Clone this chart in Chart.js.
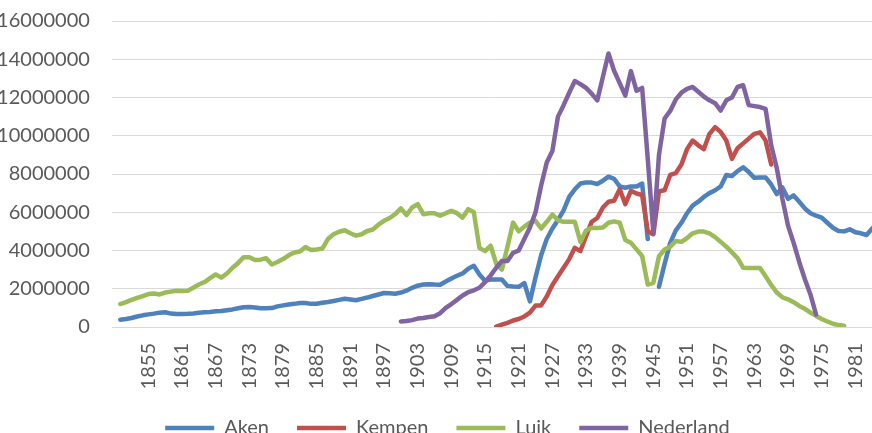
<!DOCTYPE html>
<html>
<head>
<meta charset="utf-8">
<script src="https://cdn.jsdelivr.net/npm/chart.js@4.4.1/dist/chart.umd.min.js"></script>
<style>
  html, body { margin: 0; padding: 0; background: #ffffff; overflow: hidden; }
  #wrap { position: absolute; left: 0; top: 0; width: 875px; height: 448px; }
  canvas { display: block; }
</style>
</head>
<body>
<div id="wrap"><canvas id="chart" width="875" height="448"></canvas></div>
<script>
// Years on the category axis (first category is empty)
const firstYear = 1849;
const lastYear = 1984;

// Labels shown under the axis
const tickYears = [1855, 1861, 1867, 1873, 1879, 1885, 1891, 1897, 1903, 1909, 1915,
  1921, 1927, 1933, 1939, 1945, 1951, 1957, 1963, 1969, 1975, 1981];

// Series values in millions, with the year of their first value
const akenStart = 1850;
const aken = [
  0.38, 0.42, 0.47, 0.55, 0.61, 0.66, 0.70, 0.75, 0.77, 0.70,
  0.68, 0.68, 0.69, 0.71, 0.74, 0.77, 0.79, 0.82, 0.84, 0.88,
  0.92, 0.98, 1.03, 1.05, 1.02, 0.98, 0.98, 0.99, 1.08, 1.13,
  1.18, 1.21, 1.25, 1.25, 1.21, 1.22, 1.27, 1.31, 1.36, 1.42,
  1.48, 1.44, 1.40, 1.47, 1.54, 1.62, 1.70, 1.78, 1.76, 1.74,
  1.80, 1.90, 2.05, 2.16, 2.22, 2.24, 2.22, 2.21, 2.38, 2.54,
  2.68, 2.80, 3.05, 3.20, 2.75, 2.42, 2.48, 2.48, 2.48, 2.15,
  2.12, 2.10, 2.30, 1.34, 2.60, 3.75, 4.60, 5.15, 5.60, 6.10,
  6.80, 7.20, 7.50, 7.56, 7.55, 7.48, 7.65, 7.86, 7.75, 7.35,
  7.28, 7.35, 7.35, 7.50, 4.60, null, 2.10, 3.30, 4.40, 5.05,
  5.45, 5.95, 6.35, 6.55, 6.80, 7.00, 7.15, 7.35, 7.95, 7.90,
  8.15, 8.35, 8.10, 7.80, 7.82, 7.82, 7.45, 6.95, 7.30, 6.70,
  6.88, 6.55, 6.20, 5.95, 5.82, 5.72, 5.45, 5.19, 5.02, 5.00,
  5.11, 4.95, 4.90, 4.81, 5.15
];

const kempenStart = 1917;
const kempen = [
  0.02, 0.12, 0.22,
  0.34, 0.42, 0.55, 0.75, 1.12, 1.13, 1.60, 2.20, 2.65, 3.10,
  3.55, 4.14, 3.97, 4.75, 5.50, 5.70, 6.25, 6.55, 6.60, 7.21,
  6.42, 7.12, 6.98, 6.90, 5.00, 4.85, 7.10, 7.15, 7.95, 8.05,
  8.50, 9.30, 9.75, 9.50, 9.30, 10.10, 10.45, 10.20, 9.75, 8.79,
  9.35, 9.60, 9.85, 10.10, 10.18, 9.75, 8.50
];

const luikStart = 1850;
const luik = [
  1.20, 1.30, 1.42, 1.52, 1.62, 1.72, 1.75, 1.70, 1.80, 1.85,
  1.90, 1.88, 1.90, 2.05, 2.22, 2.35, 2.55, 2.75, 2.58, 2.80,
  3.10, 3.35, 3.65, 3.65, 3.50, 3.52, 3.60, 3.27, 3.40, 3.55,
  3.75, 3.90, 3.95, 4.18, 4.03, 4.05, 4.10, 4.60, 4.85, 4.98,
  5.06, 4.90, 4.78, 4.85, 5.02, 5.10, 5.35, 5.55, 5.70, 5.90,
  6.20, 5.85, 6.25, 6.42, 5.90, 5.95, 5.95, 5.82, 5.95, 6.07,
  5.95, 5.72, 6.16, 6.00, 4.14, 3.97, 4.25, 3.30, 3.00, 4.20,
  5.46, 5.00, 5.25, 5.46, 5.55, 5.15, 5.50, 5.88, 5.58, 5.50,
  5.50, 5.50, 4.45, 5.05, 5.19, 5.18, 5.20, 5.45, 5.52, 5.45,
  4.55, 4.40, 4.06, 3.71, 2.22, 2.31, 3.70, 4.05, 4.20, 4.50,
  4.45, 4.65, 4.90, 4.99, 4.99, 4.90, 4.70, 4.45, 4.20, 3.90,
  3.60, 3.10, 3.09, 3.09, 3.09, 2.65, 2.20, 1.80, 1.55, 1.45,
  1.30, 1.10, 0.95, 0.75, 0.58, 0.42, 0.29, 0.17, 0.10, 0.06
];

const nederlandStart = 1900;
const nederland = [
  0.29, 0.31, 0.36, 0.44, 0.47, 0.52, 0.56, 0.72, 1.00, 1.20,
  1.42, 1.65, 1.82, 1.92, 2.05, 2.35, 2.70, 3.10, 3.45, 3.45,
  3.88, 4.00, 4.60, 5.20, 6.00, 7.40, 8.60, 9.20, 11.00, 11.60,
  12.25, 12.86, 12.70, 12.50, 12.20, 11.85, 13.07, 14.30, 13.40, 12.75,
  12.10, 13.38, 12.35, 12.50, 8.80, 4.93, 9.00, 10.90, 11.30, 11.90,
  12.25, 12.45, 12.55, 12.30, 12.05, 11.85, 11.70, 11.32, 11.85, 12.00,
  12.55, 12.64, 11.60, 11.55, 11.50, 11.41, 9.50, 8.30, 6.70, 5.30,
  4.40, 3.40, 2.50, 1.70, 0.65
];

const years = [];
for (let y = firstYear; y <= lastYear; y++) years.push(y);

// Place a series on the full year axis, empty where it has no value
function onYears(start, values) {
  return years.map(y => {
    const v = values[y - start];
    return (v === undefined || v === null) ? null : v * 1000000;
  });
}

function line(label, color, data, order) {
  return {
    label: label,
    data: data,
    borderColor: color,
    backgroundColor: color,
    borderWidth: 4.5,
    borderCapStyle: 'round',
    borderJoinStyle: 'round',
    pointRadius: 0,
    pointHoverRadius: 0,
    tension: 0,
    spanGaps: false,
    order: order
  };
}

// The legend sits a bit right of the page centre in the original
const legendShift = {
  id: 'legendShift',
  afterLayout(chart) {
    chart.legend.left += 10;
    chart.legend.right += 10;
  }
};

const textColor = '#595959';
const font = { family: 'Lato', size: 20 };

new Chart(document.getElementById('chart'), {
  type: 'line',
  data: {
    labels: years,
    datasets: [
      line('Aken', '#4f81bd', onYears(akenStart, aken), 3),
      line('Kempen', '#c0504d', onYears(kempenStart, kempen), 2),
      line('Luik', '#9bbb59', onYears(luikStart, luik), 1),
      line('Nederland', '#8064a2', onYears(nederlandStart, nederland), 0)
    ]
  },
  plugins: [legendShift],
  options: {
    responsive: false,
    animation: false,
    layout: { padding: { left: 0, top: 21, right: 0, bottom: 0 } },
    plugins: {
      legend: {
        position: 'bottom',
        labels: {
          usePointStyle: true,
          pointStyle: 'line',
          pointStyleWidth: 49,
          padding: 28,
          color: textColor,
          font: font,
          sort: (a, b) => a.datasetIndex - b.datasetIndex
        }
      },
      tooltip: { enabled: false }
    },
    scales: {
      x: {
        offset: true,
        grid: { display: false, drawTicks: false },
        border: { display: false },
        afterFit: function(scale) {
          scale.height = 63;
          // the plot runs out to the right edge of the picture
          scale.paddingLeft = 0;
          scale.paddingRight = 0;
        },
        ticks: {
          autoSkip: false,
          maxRotation: 90,
          minRotation: 90,
          padding: 16,
          color: textColor,
          font: font,
          callback: function(value, index) {
            const y = years[index];
            return tickYears.includes(y) ? String(y) : null;
          }
        }
      },
      y: {
        min: 0,
        max: 16000000,
        grid: {
          color: '#d9d9d9',
          lineWidth: 1,
          drawTicks: true,
          tickLength: 14,
          tickColor: 'rgba(0,0,0,0)'
        },
        border: { display: false },
        afterFit: function(scale) { scale.width = 111.9; },
        ticks: {
          stepSize: 2000000,
          padding: 8,
          color: textColor,
          font: font,
          callback: v => String(v)
        }
      }
    }
  }
});
</script>
</body>
</html>
